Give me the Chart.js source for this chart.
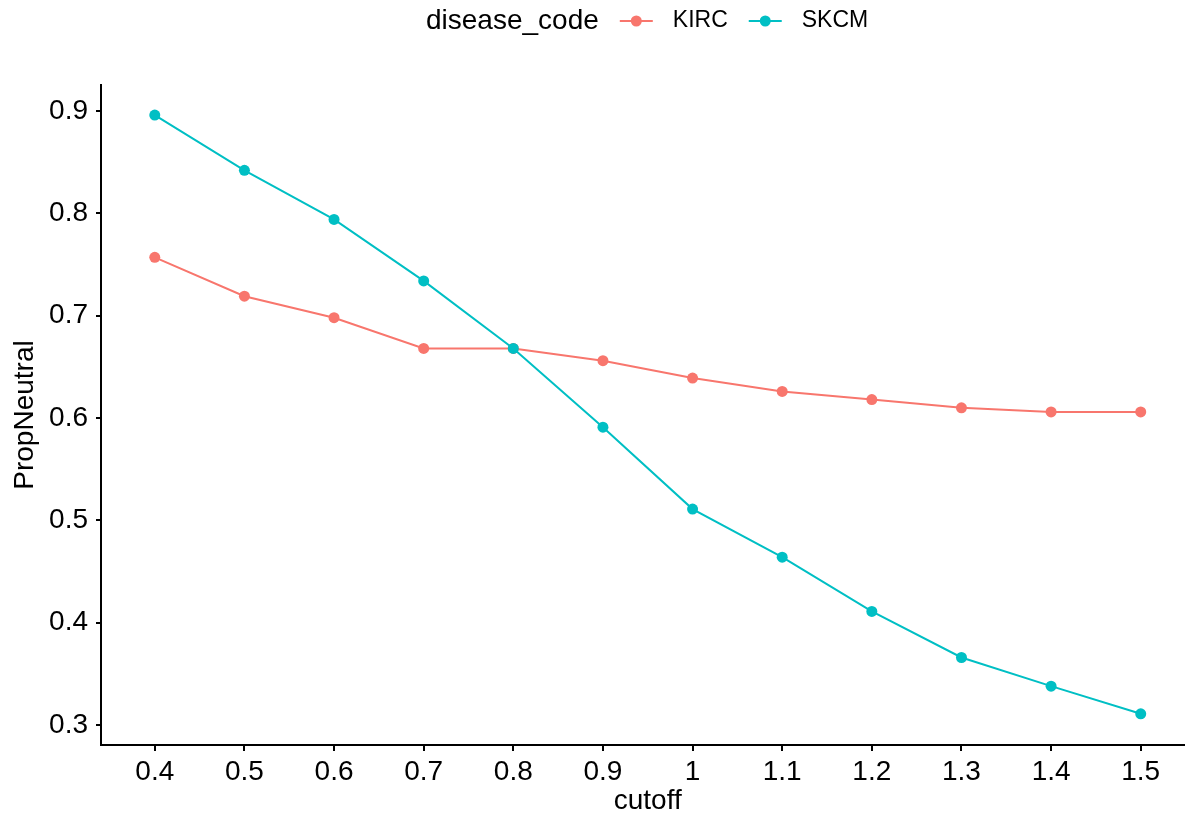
<!DOCTYPE html>
<html>
<head>
<meta charset="utf-8">
<script src="https://cdn.jsdelivr.net/npm/chart.js@4/dist/chart.umd.min.js"></script>
<style>
  html, body { margin: 0; padding: 0; background: #fff; overflow: hidden; }
  #wrap { width: 1185px; height: 818px; overflow: hidden; }
  canvas { display: block; }
</style>
</head>
<body>
<!-- canvas is a bit wider than the window so the x axis runs off the right edge like the original -->
<div id="wrap"><canvas id="propChart" width="1200" height="818"></canvas></div>
<script>
// cutoff values (discrete x axis) and y ticks
const cutoffs = ['0.4', '0.5', '0.6', '0.7', '0.8', '0.9', '1', '1.1', '1.2', '1.3', '1.4', '1.5'];
const yTicks = [0.3, 0.4, 0.5, 0.6, 0.7, 0.8, 0.9];

// PropNeutral per disease code
const kirc = [0.757, 0.719, 0.698, 0.668, 0.668, 0.656, 0.639, 0.626, 0.618, 0.610, 0.606, 0.606];
const skcm = [0.896, 0.842, 0.794, 0.734, 0.668, 0.591, 0.511, 0.464, 0.411, 0.366, 0.338, 0.311];

const legendTitle = 'disease_code';
const fontFamily = '"Liberation Sans", Arial, Helvetica, sans-serif';

function toPoints(values) {
    return values.map((v, i) => ({ x: i, y: v }));
}

// ggplot-style inline legend at the top
const inlineLegend = {
    id: 'inlineLegend',
    afterDraw(chart) {
        const ctx = chart.ctx;
        const y = 21;
        const keyW = 33;
        ctx.save();
        ctx.textBaseline = 'middle';
        ctx.font = '28px ' + fontFamily;
        const titleW = ctx.measureText(legendTitle).width;
        ctx.font = '23px ' + fontFamily;
        const items = chart.data.datasets.map(ds => ({ ds, w: ctx.measureText(ds.label).width }));

        let x = 426;
        ctx.fillStyle = '#000';
        ctx.font = '28px ' + fontFamily;
        ctx.fillText(legendTitle, x, y);
        x += titleW;

        ctx.font = '23px ' + fontFamily;
        items.forEach(it => {
            x += 21;
            ctx.strokeStyle = it.ds.borderColor;
            ctx.lineWidth = 2;
            ctx.beginPath();
            ctx.moveTo(x, y);
            ctx.lineTo(x + keyW, y);
            ctx.stroke();
            ctx.fillStyle = it.ds.borderColor;
            ctx.beginPath();
            ctx.arc(x + keyW / 2, y, 5.5, 0, Math.PI * 2);
            ctx.fill();
            x += keyW + 20;
            ctx.fillStyle = '#000';
            ctx.fillText(it.ds.label, x, y);
            x += it.w;
        });
        ctx.restore();
    }
};

const ctx = document.getElementById('propChart').getContext('2d');
new Chart(ctx, {
    type: 'line',
    data: {
        datasets: [
            {
                label: 'KIRC',
                data: toPoints(kirc),
                borderColor: '#F8766D',
                backgroundColor: '#F8766D',
                borderWidth: 2,
                pointRadius: 5.5,
                pointBorderWidth: 0,
                order: 1
            },
            {
                label: 'SKCM',
                data: toPoints(skcm),
                borderColor: '#00BFC4',
                backgroundColor: '#00BFC4',
                borderWidth: 2,
                pointRadius: 5.5,
                pointBorderWidth: 0,
                order: 0
            }
        ]
    },
    options: {
        responsive: false,
        animation: false,
        layout: { padding: { top: 85, right: 0, bottom: 0, left: 0 } },
        plugins: {
            legend: { display: false },
            tooltip: { enabled: false }
        },
        scales: {
            x: {
                type: 'linear',
                min: -0.6,
                max: 11.6,
                afterBuildTicks: scale => { scale.ticks = cutoffs.map((_, i) => ({ value: i })); },
                afterFit: scale => {
                    scale.height = 73;
                    scale.paddingRight = 0;
                    scale.paddingLeft = 0;
                },
                ticks: {
                    callback: value => cutoffs[value],
                    color: '#000',
                    font: { family: fontFamily, size: 28 },
                    padding: 4,
                    maxRotation: 0,
                    autoSkip: false
                },
                grid: { drawOnChartArea: false, drawTicks: true, tickLength: 6, color: '#000', lineWidth: 2 },
                border: { display: true, color: '#000', width: 2 },
                title: {
                    display: true,
                    text: 'cutoff',
                    color: '#000',
                    font: { family: fontFamily, size: 28 },
                    padding: { top: 0, bottom: 0 }
                }
            },
            y: {
                type: 'linear',
                min: 0.2805,
                max: 0.9254,
                afterBuildTicks: scale => { scale.ticks = yTicks.map(v => ({ value: v })); },
                afterFit: scale => { scale.width = 101; },
                ticks: {
                    callback: value => value.toFixed(1),
                    color: '#000',
                    font: { family: fontFamily, size: 28 },
                    padding: 8
                },
                grid: { drawOnChartArea: false, drawTicks: true, tickLength: 5, color: '#000', lineWidth: 2 },
                border: { display: true, color: '#000', width: 2 },
                title: {
                    display: true,
                    text: 'PropNeutral',
                    color: '#000',
                    font: { family: fontFamily, size: 28 },
                    padding: { top: 8, bottom: 0 }
                }
            }
        }
    },
    plugins: [inlineLegend]
});
</script>
</body>
</html>
